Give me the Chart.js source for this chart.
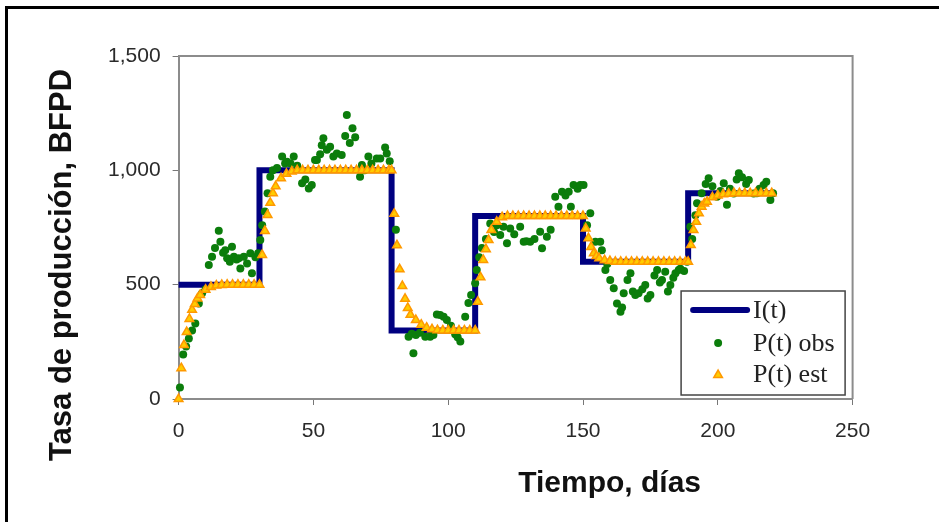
<!DOCTYPE html>
<html>
<head>
<meta charset="utf-8">
<title>Tasa de producción</title>
<script src="https://cdn.jsdelivr.net/npm/chart.js@4/dist/chart.umd.min.js"></script>
<style>
  html, body { margin: 0; padding: 0; background: #fff; }
  #wrap { width: 939px; height: 522px; }
</style>
</head>
<body>
<div id="wrap"><canvas id="chart" width="939" height="522"></canvas></div>
<script>
// I(t): step changes of the injection rate (day, BFPD)
const injTime = [0, 30, 79, 110, 150, 189, 220];
const injRate = [500, 1000, 300, 800, 600, 900, 900];

// P(t) obs
const obsTime = [
  0.5, 1.7, 2.8, 3.8, 5, 6.2, 7.5, 8.7, 10, 11.2, 12.4, 13.5, 14.9, 15.5, 16.5, 17.3, 18, 19, 19.8, 20.5, 21.5, 22.3, 22.9, 24.2, 25.4, 26.6, 27.2, 28.5, 29.5,
  30.3, 31, 32, 33, 34, 35, 36.5, 38.4, 39.5, 40.2, 41.5, 42.7, 44, 45.8, 47, 48.3, 49.4, 50.6, 51.3, 52.5, 53.1, 53.7, 55, 56.2, 57.4, 58.7, 60.5, 61.8, 62.4, 63.5, 64.5, 65.5, 67.3, 68, 69, 70.4, 71.5, 73.5, 74.8, 76.6, 77.2, 78.3,
  80.6, 85.3, 86.5, 87.1, 88, 89.5, 91.5, 93.3, 94.5, 95.8, 97, 98.3, 99.5, 101, 102.6, 103.5, 104.5, 106.3, 107.5, 108.5, 110,
  110.6, 111.5, 112.5, 114, 115.6, 117, 118, 119.3, 120.5, 121.8, 123, 124.5, 126.7, 128, 129, 130.4, 132, 134.1, 134.8, 136.6, 138, 139.7, 140.9, 142.2, 143.5, 144.7, 145.5, 146.5, 148, 149, 150.2,
  151.5, 152.7, 154.6, 156.4, 157, 158.3, 159, 160.1, 161.4, 162.6, 163.9, 164.5, 165.1, 166.5, 167.6, 168.5, 169.4, 170.6, 172, 173.1, 174, 175, 176.5, 177.5, 178.5, 179.3, 180.5, 181.5, 182.4, 183.5, 184.3, 185.5, 186.1, 187.5, 188.6,
  189.8, 190.5, 191.7, 192.3, 194, 195.5, 196.6, 198, 199.7, 201, 202.2, 203.4, 204.5, 205.9, 207, 207.8, 209, 210.5, 211.5, 213.3, 214.5, 215.5, 217, 218, 219.5, 220.5,
];
const obsRate = [
  50, 195, 230, 265, 300, 330, 418, 462, 480, 586, 622, 660, 736, 688, 640, 651, 615, 600, 666, 622, 610, 615, 571, 622, 593, 637, 550, 620, 637,
  695, 760, 820, 900, 972, 1000, 1010, 1060, 1030, 1038, 1030, 1060, 1020, 943, 960, 921, 936, 1045, 1045, 1070, 1110, 1140, 1090, 1103, 1060, 1074, 1067, 1150, 1242, 1120, 1184, 1145, 972, 1023, 1000, 1060, 1030, 1052, 1052, 1100, 1074, 1040,
  740, 272, 285, 200, 280, 290, 272, 272, 280, 370, 367, 360, 345, 320, 283, 270, 251, 360, 420, 455, 506,
  564, 620, 660, 700, 768, 730, 760, 717, 753, 681, 746, 720, 753, 688, 690, 688, 700, 731, 659, 710, 740, 885, 841, 906, 890, 906, 841, 936, 920, 936, 936,
  760, 812, 688, 688, 651, 564, 590, 520, 484, 418, 382, 400, 462, 520, 550, 470, 455, 462, 480, 498, 440, 455, 540, 564, 510, 520, 557, 470, 498, 530, 550, 564, 570, 560, 600,
  753, 700, 804, 856, 900, 940, 965, 930, 885, 910, 943, 850, 920, 899, 960, 987, 970, 940, 958, 899, 900, 920, 936, 950, 870, 900,
];

// P(t) est
const estTime = [
  0, 1, 2, 3, 4, 5, 6, 7, 8, 10, 12, 14, 16, 18, 20, 22, 24, 26, 28, 30,
  31, 32, 33, 34, 35, 36, 38, 40, 42, 44, 46, 48, 50, 52, 54, 56, 58, 60, 62, 64, 66, 68, 70, 72, 74, 76, 78, 79,
  80, 81, 82, 83, 84, 85, 86, 88, 90, 92, 94, 96, 98, 100, 102, 104, 106, 108, 110,
  111, 112, 113, 114, 115, 116, 118, 120, 122, 124, 126, 128, 130, 132, 134, 136, 138, 140, 142, 144, 146, 148, 150,
  151, 152, 153, 154, 155, 156, 158, 160, 162, 164, 166, 168, 170, 172, 174, 176, 178, 180, 182, 184, 186, 188, 189,
  190, 191, 192, 193, 194, 195, 196, 198, 200, 202, 204, 206, 208, 210, 212, 214, 216, 218, 220,
];
const estRate = [
  0, 135, 236, 293, 350, 390, 415, 440, 455, 478, 490, 496, 499, 500, 500, 500, 500, 500, 500, 500,
  630, 735, 805, 858, 900, 930, 965, 985, 995, 1000, 1000, 1000, 1000, 1000, 1000, 1000, 1000, 1000, 1000, 1000, 1000, 1000, 1000, 1000, 1000, 1000, 1000, 1000,
  810, 672, 567, 494, 438, 398, 368, 345, 325, 312, 305, 301, 300, 300, 300, 300, 300, 300, 300,
  425, 532, 608, 655, 695, 739, 775, 795, 800, 800, 800, 800, 800, 800, 800, 800, 800, 800, 800, 800, 800, 800, 800,
  746, 703, 665, 637, 625, 615, 607, 603, 600, 600, 600, 600, 600, 600, 600, 600, 600, 600, 600, 600, 600, 600, 600,
  673, 739, 775, 812, 841, 855, 863, 882, 890, 895, 898, 900, 900, 900, 900, 900, 900, 900, 900,
];

const xTicks = [0, 50, 100, 150, 200, 250];
const yTicks = [0, 500, 1000, 1500];

const legendLabels = ["I(t)", "P(t) obs", "P(t) est"];
const xTitle = "Tiempo, días";
const yTitle = "Tasa de producción, BFPD";

const colors = {
  inj: "#000080",
  obs: "#0b7d0b",
  estFill: "#ffcc00",
  estBorder: "#ff9900",
  axis: "#8c8c8c",
  text: "#2a2a2a",
};

const sans = "'Liberation Sans', Arial, sans-serif";
const serif = "'Liberation Serif', 'Times New Roman', serif";

function toPoints(xs, ys) {
  return xs.map((x, i) => ({ x, y: ys[i] }));
}

function drawTriangle(ctx, x, y, r) {
  ctx.beginPath();
  ctx.moveTo(x, y - r);
  ctx.lineTo(x + r * 0.866, y + r * 0.5);
  ctx.lineTo(x - r * 0.866, y + r * 0.5);
  ctx.closePath();
  ctx.fill();
  ctx.stroke();
}

// frame, axis titles and the boxed legend inside the plot
const decorations = {
  id: "decorations",
  beforeDraw(chart) {
    const ctx = chart.ctx;
    ctx.save();
    ctx.fillStyle = "#000";
    ctx.fillRect(5, 6, 934, 3);
    ctx.fillRect(5, 6, 3, 516);
    ctx.restore();
  },
  afterDraw(chart) {
    const { ctx, chartArea: a } = chart;
    ctx.save();

    ctx.strokeStyle = colors.axis;
    ctx.lineWidth = 2;
    ctx.beginPath();
    ctx.moveTo(a.left, a.top);
    ctx.lineTo(a.right, a.top);
    ctx.lineTo(a.right, a.bottom);
    ctx.stroke();

    ctx.fillStyle = "#111";
    ctx.font = "bold 30px " + sans;
    ctx.textAlign = "center";
    ctx.textBaseline = "alphabetic";
    ctx.fillText(xTitle, a.left + 431, a.bottom + 93);

    ctx.translate(a.left - 108, a.top + 209);
    ctx.rotate(-Math.PI / 2);
    ctx.font = "bold 31px " + sans;
    ctx.fillText(yTitle, 0, 0);
    ctx.setTransform(1, 0, 0, 1, 0, 0);

    // legend box
    const bx = a.right - 171.5;
    const by = a.bottom - 108;
    const bw = 164;
    const bh = 104;
    ctx.fillStyle = "#fff";
    ctx.fillRect(bx, by, bw, bh);
    ctx.strokeStyle = "#444";
    ctx.lineWidth = 1.5;
    ctx.strokeRect(bx, by, bw, bh);

    const rows = [by + 19, by + 52, by + 83];
    ctx.strokeStyle = colors.inj;
    ctx.lineWidth = 6;
    ctx.lineCap = "round";
    ctx.beginPath();
    ctx.moveTo(bx + 12, rows[0]);
    ctx.lineTo(bx + 66, rows[0]);
    ctx.stroke();

    ctx.fillStyle = colors.obs;
    ctx.beginPath();
    ctx.arc(bx + 37, rows[1], 4, 0, Math.PI * 2);
    ctx.fill();

    ctx.fillStyle = colors.estFill;
    ctx.strokeStyle = colors.estBorder;
    ctx.lineWidth = 1.5;
    drawTriangle(ctx, bx + 37, rows[2] + 1, 5);

    ctx.fillStyle = "#222";
    ctx.font = "26px " + serif;
    ctx.textAlign = "left";
    ctx.textBaseline = "middle";
    legendLabels.forEach((label, i) => {
      ctx.fillText(label, bx + 72, rows[i] + 1);
    });

    ctx.restore();
  },
};

const tickFont = { family: sans, size: 21 };

new Chart(document.getElementById("chart"), {
  type: "scatter",
  data: {
    datasets: [
      {
        label: legendLabels[2],
        data: toPoints(estTime, estRate),
        pointStyle: "triangle",
        pointRadius: 5,
        pointBorderWidth: 1.5,
        pointBackgroundColor: colors.estFill,
        pointBorderColor: colors.estBorder,
        clip: false,
      },
      {
        label: legendLabels[1],
        data: toPoints(obsTime, obsRate),
        pointStyle: "circle",
        pointRadius: 4,
        pointBorderWidth: 0,
        pointBackgroundColor: colors.obs,
        clip: false,
      },
      {
        type: "line",
        label: legendLabels[0],
        data: toPoints(injTime, injRate),
        stepped: true,
        borderColor: colors.inj,
        borderWidth: 6,
        pointRadius: 0,
        fill: false,
        clip: false,
      },
    ],
  },
  options: {
    responsive: false,
    animation: false,
    devicePixelRatio: 1,
    layout: {
      padding: { left: 98.6, right: 86.4, top: 56, bottom: 83 },
    },
    plugins: {
      legend: { display: false },
      tooltip: { enabled: false },
    },
    scales: {
      x: {
        type: "linear",
        min: 0,
        max: 250,
        afterBuildTicks: (scale) => {
          scale.ticks = xTicks.map((value) => ({ value }));
        },
        afterFit: (scale) => {
          scale.height = 40;
        },
        ticks: { font: tickFont, color: colors.text, padding: 14 },
        grid: { drawOnChartArea: false, tickLength: 6, color: "#777" },
        border: { color: colors.axis, width: 2 },
      },
      y: {
        type: "linear",
        min: 0,
        max: 1500,
        afterBuildTicks: (scale) => {
          scale.ticks = yTicks.map((value) => ({ value }));
        },
        afterFit: (scale) => {
          scale.width = 80;
        },
        ticks: {
          font: tickFont,
          color: colors.text,
          padding: 12,
          callback: (value) => Number(value).toLocaleString("en-US"),
        },
        grid: { drawOnChartArea: false, tickLength: 6, color: "#777" },
        border: { color: colors.axis, width: 2 },
      },
    },
  },
  plugins: [decorations],
});
</script>
</body>
</html>
